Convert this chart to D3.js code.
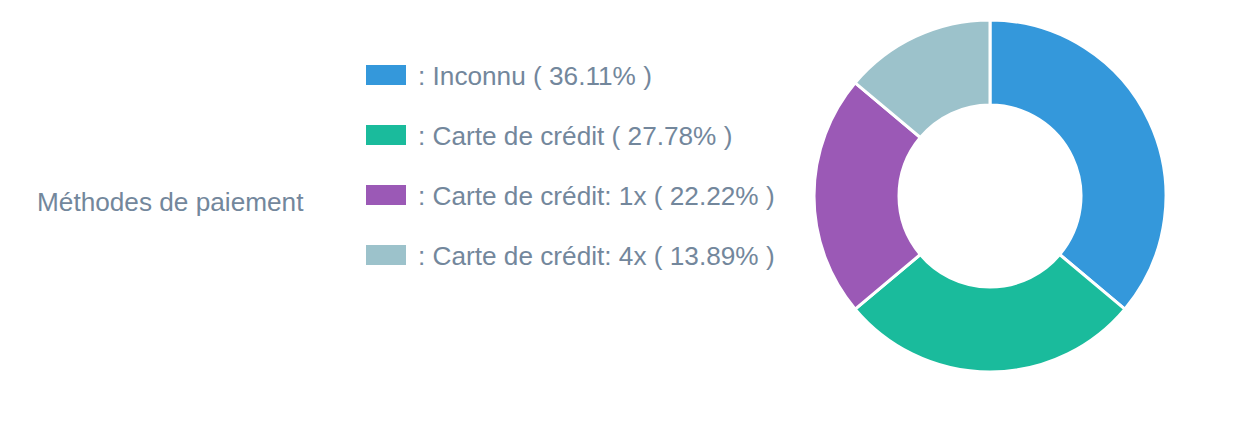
<!DOCTYPE html>
<html>
<head>
<meta charset="utf-8">
<script src="https://cdn.jsdelivr.net/npm/d3@7"></script>
<style>
  html, body { margin: 0; padding: 0; background: #fff; }
  svg { display: block; }
  text { font-family: "Liberation Sans", Arial, Helvetica, sans-serif; fill: #73879C; }
</style>
</head>
<body>
<svg id="chart" width="1238" height="422"></svg>
<script>
const title = "Méthodes de paiement";
const categories = ["Inconnu", "Carte de crédit", "Carte de crédit: 1x", "Carte de crédit: 4x"];
const values = [13, 10, 8, 5];
const percents = ["36.11%", "27.78%", "22.22%", "13.89%"];
const colors = ["#3498DB", "#1ABB9C", "#9B59B6", "#9CC2CB"];

const svg = d3.select("#chart");
const fontSize = 26.2;

// Title
svg.append("text")
  .attr("x", 37)
  .attr("y", 211)
  .style("font-size", fontSize + "px")
  .text(title);

// Legend
const legendY = d3.scalePoint().domain(categories).range([85, 265]);
const legend = svg.append("g");
const rows = legend.selectAll("g.row").data(categories).enter().append("g")
  .attr("class", "row")
  .attr("transform", d => `translate(366,${legendY(d)})`);
rows.append("rect")
  .attr("x", 0).attr("y", -20).attr("width", 40).attr("height", 20)
  .attr("fill", (d, i) => colors[i]);
rows.append("text")
  .attr("x", 52).attr("y", 0)
  .style("font-size", fontSize + "px")
  .text((d, i) => `: ${d} ( ${percents[i]} )`);

// Donut
const cx = 990, cy = 196, rOuter = 176, rInner = 91;
const pie = d3.pie().sort(null).value(d => d)(values);
const arc = d3.arc().innerRadius(rInner).outerRadius(rOuter);
svg.append("g")
  .attr("transform", `translate(${cx},${cy})`)
  .selectAll("path").data(pie).enter().append("path")
  .attr("d", arc)
  .attr("fill", (d, i) => colors[i])
  .attr("stroke", "#fff")
  .attr("stroke-width", 3);
</script>
</body>
</html>
